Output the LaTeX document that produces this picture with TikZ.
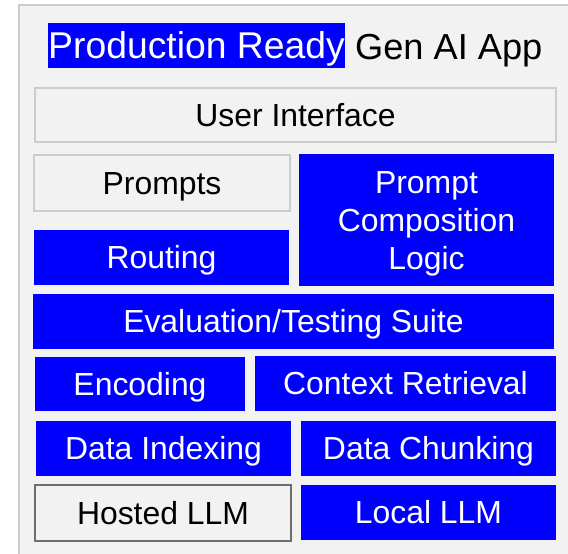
\documentclass[tikz,border=0pt]{standalone}
\usepackage{fontspec}
\setmainfont{Liberation Sans}
\definecolor{bgray}{HTML}{F2F2F2}
\definecolor{lgray}{HTML}{CCCCCC}
\definecolor{dgray}{HTML}{6E6E6E}
\definecolor{pblue}{HTML}{0000FF}
\tikzset{
  base/.style={rectangle, inner sep=0pt, font=\fontsize{31.9}{38}\selectfont, text height=22.85pt, text depth=0pt},
  graybox/.style={base, draw=lgray, line width=2pt, fill=bgray, text=black},
  darkbox/.style={base, draw=dgray, line width=2pt, fill=bgray, text=black},
  bluebox/.style={base, fill=pblue, text=white},
}
\begin{document}
\begin{tikzpicture}[x=1pt, y=-1pt]
\useasboundingbox (0,0) rectangle (568,554);
\clip (0,0) rectangle (568,554);
\fill[white] (0,0) rectangle (568,554);
\draw[lgray, line width=2pt, fill=bgray] (19,5) rectangle (600,600);
% title
\node[rectangle, inner sep=0pt, fill=pblue, text=white, font=\fontsize{37.3}{40}\selectfont,
      minimum width=297pt, minimum height=45pt, text height=26.7pt, text depth=0pt] (title) at (196.5,45.5) {Production Ready};
\node[anchor=base west, inner sep=0pt, font=\fontsize{36.2}{40}\selectfont] (gen) at (355,59) {Gen AI App};
% boxes
\node[graybox, minimum width=521pt, minimum height=54pt] (ui) at (295.5,115) {User Interface};
\node[graybox, minimum width=256pt, minimum height=56pt] (prompts) at (162,183) {Prompts};
\node[bluebox, minimum width=255pt, minimum height=55pt] (routing) at (161.5,257.5) {Routing};
\node[bluebox, minimum width=255pt, minimum height=132pt, align=center, text height=98.85pt, text depth=0pt] (pcl) at (426.5,220) {Prompt\\Composition\\Logic};
\node[bluebox, minimum width=521pt, minimum height=55pt] (eval) at (293.5,321.5) {Evaluation/Testing Suite};
\node[bluebox, minimum width=210pt, minimum height=54pt] (enc) at (140,384) {Encoding};
\node[bluebox, minimum width=301pt, minimum height=55pt] (ctx) at (405.5,383.5) {Context Retrieval};
\node[bluebox, minimum width=255pt, minimum height=55pt] (idx) at (163.5,448.5) {Data Indexing};
\node[bluebox, minimum width=255pt, minimum height=55pt] (chunk) at (428.5,448.5) {Data Chunking};
\node[darkbox, minimum width=256pt, minimum height=56pt] (hosted) at (163,513) {Hosted LLM};
\node[bluebox, minimum width=255pt, minimum height=55pt] (local) at (428.5,512.5) {Local LLM};
\end{tikzpicture}
\end{document}
